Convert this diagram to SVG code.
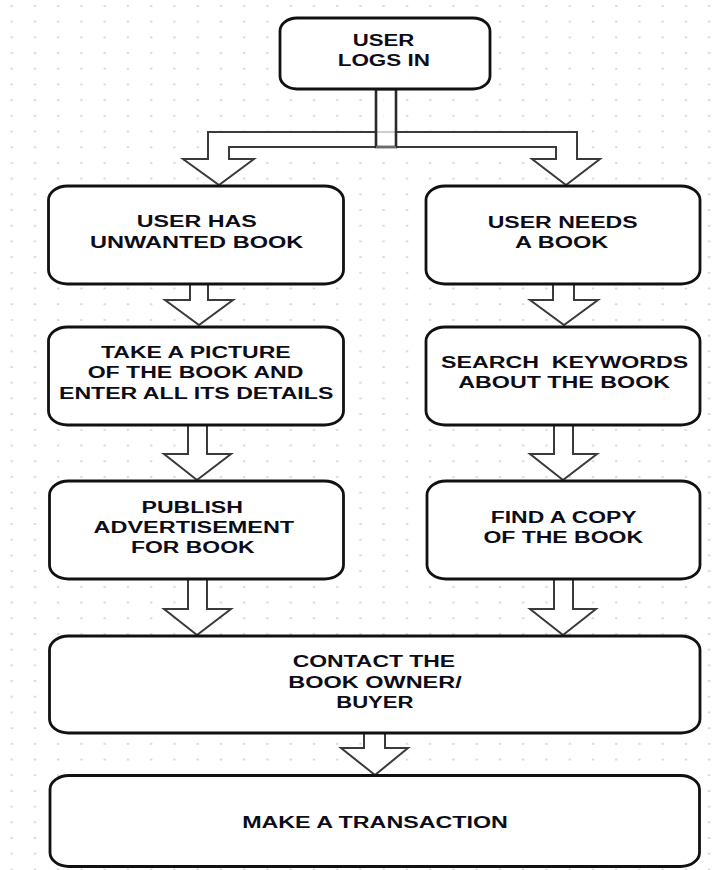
<svg xmlns="http://www.w3.org/2000/svg" width="721" height="870" viewBox="0 0 721 870">
<style>
.box{fill:#fff;stroke:#111;stroke-width:2.8}
.arr{fill:#fff;stroke:#3a3a3a;stroke-width:2;stroke-linejoin:miter}
.t{font-family:"Liberation Sans",Arial,sans-serif;font-weight:bold;font-size:16px;fill:#0d0d1a}
</style>
<defs>
<pattern id="grid" patternUnits="userSpaceOnUse" x="0" y="0" width="23.25" height="15.7">
<rect x="10.5" y="5.2" width="2.4" height="1.5" fill="#cfcfcf"/>
</pattern>
</defs>
<rect width="721" height="870" fill="#fff"/>
<rect width="721" height="870" fill="url(#grid)"/>

<g id="connectors">
<polygon class="arr" stroke="#6a6a6a" points="208,132 208,159 183,159 219,185 254,159 229,159 229,147 556,147 556,159 532,159 566,185 600,159 577,159 577,132"/>
<rect x="376" y="89" width="20" height="58" fill="#fff" fill-opacity="0.75" stroke="#2a2a2a" stroke-width="2.6"/>
<line x1="376" y1="147" x2="396" y2="147" stroke="#6a6a6a" stroke-width="2"/>
<polygon class="arr" points="190,284 190,300 165,300 199,325 233,300 208,300 208,284"/>
<polygon class="arr" points="553,284 553,300 530,300 564,325 598,300 574,300 574,284"/>
<polygon class="arr" points="188,425 188,454 164,454 197,480 231,454 207,454 207,425"/>
<polygon class="arr" points="554,425 554,454 530,454 563,480 597,454 573,454 573,425"/>
<polygon class="arr" points="188,579 188,609 164,609 197,635 231,609 207,609 207,579"/>
<polygon class="arr" points="554,579 554,609 530,609 563,635 596,609 573,609 573,579"/>
<polygon class="arr" points="364,733 364,748 341,748 375,775 408,748 385,748 385,733"/>
</g>

<g id="n_login">
<rect class="box" x="280" y="18" width="210" height="71" rx="17" ry="13"/>
<text class="t" x="352.7" y="45.7" textLength="61.6" lengthAdjust="spacingAndGlyphs">USER</text>
<text class="t" x="337.7" y="65.7" textLength="92.3" lengthAdjust="spacingAndGlyphs">LOGS IN</text>
</g>

<g id="n_unwanted">
<rect class="box" x="48.5" y="186" width="295" height="98" rx="19" ry="14"/>
<text class="t" x="136.7" y="227.3" textLength="120" lengthAdjust="spacingAndGlyphs">USER HAS</text>
<text class="t" x="90" y="248" textLength="213.3" lengthAdjust="spacingAndGlyphs">UNWANTED BOOK</text>
</g>

<g id="n_needs">
<rect class="box" x="426" y="186" width="274" height="98" rx="19" ry="14"/>
<text class="t" x="487.7" y="228" textLength="150" lengthAdjust="spacingAndGlyphs">USER NEEDS</text>
<text class="t" x="515" y="248" textLength="93.3" lengthAdjust="spacingAndGlyphs">A BOOK</text>
</g>

<g id="n_picture">
<rect class="box" x="48.5" y="327" width="295" height="98" rx="19" ry="14"/>
<text class="t" x="101" y="358.3" textLength="189.7" lengthAdjust="spacingAndGlyphs">TAKE A PICTURE</text>
<text class="t" x="87.7" y="378.3" textLength="215.7" lengthAdjust="spacingAndGlyphs">OF THE BOOK AND</text>
<text class="t" x="59" y="399" textLength="274.3" lengthAdjust="spacingAndGlyphs">ENTER ALL ITS DETAILS</text>
</g>

<g id="n_search">
<rect class="box" x="426" y="327" width="274" height="98" rx="19" ry="14"/>
<text class="t" x="441" y="368.3" textLength="247.3" lengthAdjust="spacingAndGlyphs" xml:space="preserve">SEARCH  KEYWORDS</text>
<text class="t" x="458.3" y="388" textLength="211.7" lengthAdjust="spacingAndGlyphs">ABOUT THE BOOK</text>
</g>

<g id="n_publish">
<rect class="box" x="49.5" y="481" width="294" height="98" rx="19" ry="14"/>
<text class="t" x="141.5" y="513" textLength="101.4" lengthAdjust="spacingAndGlyphs">PUBLISH</text>
<text class="t" x="93.6" y="533.3" textLength="200.6" lengthAdjust="spacingAndGlyphs">ADVERTISEMENT</text>
<text class="t" x="131" y="553.3" textLength="123.6" lengthAdjust="spacingAndGlyphs">FOR BOOK</text>
</g>

<g id="n_find">
<rect class="box" x="427" y="481" width="273" height="98" rx="19" ry="14"/>
<text class="t" x="490.8" y="523" textLength="145.7" lengthAdjust="spacingAndGlyphs">FIND A COPY</text>
<text class="t" x="483.4" y="543" textLength="159.6" lengthAdjust="spacingAndGlyphs">OF THE BOOK</text>
</g>

<g id="n_contact">
<rect class="box" x="49.5" y="636" width="650.5" height="97" rx="19" ry="14"/>
<text class="t" x="292.7" y="667.3" textLength="162.4" lengthAdjust="spacingAndGlyphs">CONTACT THE</text>
<text class="t" x="288.3" y="688" textLength="173.4" lengthAdjust="spacingAndGlyphs">BOOK OWNER/</text>
<text class="t" x="336.2" y="708" textLength="77.3" lengthAdjust="spacingAndGlyphs">BUYER</text>
</g>

<g id="n_transaction">
<rect class="box" x="50" y="775.5" width="649.5" height="91" rx="19" ry="14"/>
<text class="t" x="242.2" y="828" textLength="265.6" lengthAdjust="spacingAndGlyphs">MAKE A TRANSACTION</text>
</g>
</svg>
